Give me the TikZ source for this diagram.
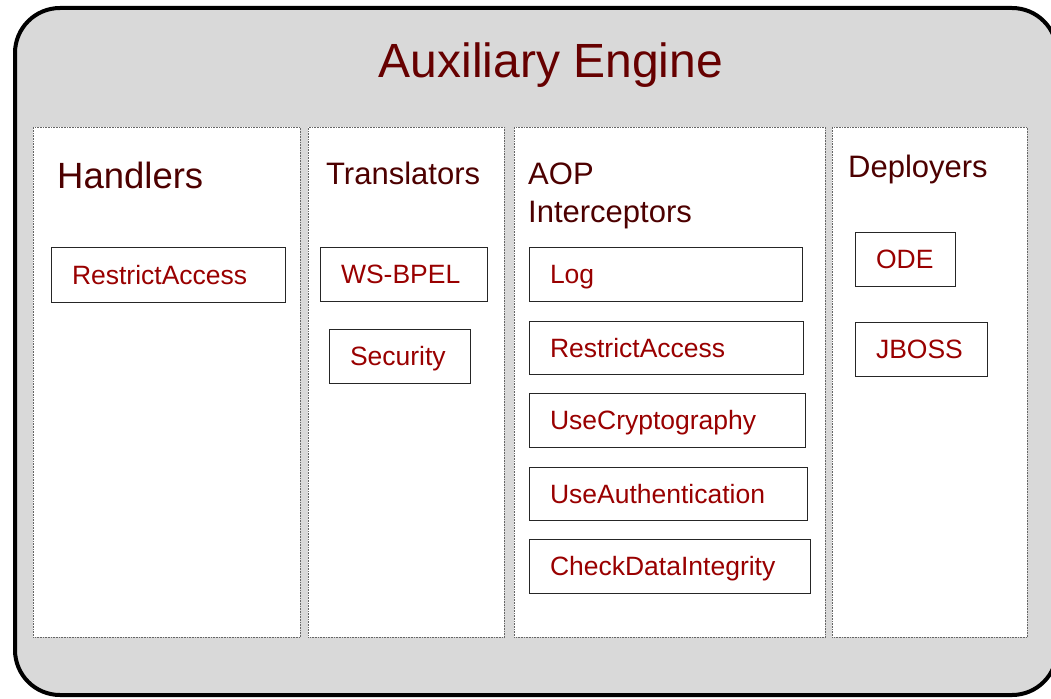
\documentclass[tikz,border=0pt]{standalone}
\usepackage{fontspec}
\setmainfont{Liberation Sans}
\definecolor{panelgray}{HTML}{D9D9D9}
\definecolor{titlered}{HTML}{660000}
\definecolor{headred}{HTML}{4D0000}
\definecolor{itemred}{HTML}{990000}
\begin{document}
\begin{tikzpicture}[x=1pt,y=-1pt,
  column/.style={draw=black!60, dash pattern=on 0.8pt off 0.8pt, line width=0.8pt,
    fill=white, inner sep=0pt, anchor=north west},
  heading/.style={text=headred, inner sep=0pt, anchor=base west, align=left,
    font=\fontsize{31}{38}\selectfont},
  item/.style={draw=black!85, line width=1pt, fill=white, text=itemred,
    font=\fontsize{26.5}{31}\selectfont, inner xsep=20.5pt, inner ysep=0pt,
    align=left, minimum height=54pt, text height=18.9pt, text depth=0pt,
    anchor=north west}]
\useasboundingbox (0,0) rectangle (1051,698);

% engine frame
\draw[line width=4pt, rounded corners=45pt, fill=panelgray] (15,8) rectangle (1057,695);
\node[text=titlered, inner sep=0pt, anchor=base, font=\fontsize{48}{56}\selectfont]
  (title) at (551,78) {Auxiliary Engine};

% columns
\node[column, minimum width=267pt, minimum height=510pt] (colH) at (33,127) {};
\node[column, minimum width=196pt, minimum height=510pt] (colT) at (308,127) {};
\node[column, minimum width=311pt, minimum height=510pt] (colA) at (514,127) {};
\node[column, minimum width=195pt, minimum height=510pt] (colD) at (832,127) {};

% column headings
\node[heading, font=\fontsize{36.5}{43}\selectfont] (hHandlers) at (57,188) {Handlers};
\node[heading] (hTranslators) at (326,184) {Translators};
\node[heading] (hAOP) at (528,184) {AOP};
\node[heading] (hInterceptors) at (528,222) {Interceptors};
\node[heading] (hDeployers) at (848,177) {Deployers};

% handlers
\node[item, text width=193pt, minimum height=55pt] (handRestrict) at (51,247) {RestrictAccess};

% translators
\node[item, text width=126pt] (trBpel) at (320,247) {WS-BPEL};
\node[item, text width=100pt] (trSec) at (329,329) {Security};

% AOP interceptors
\node[item, text width=232pt] (aopLog) at (529,247) {Log};
\node[item, text width=233pt, minimum height=53pt] (aopRestrict) at (529,321) {RestrictAccess};
\node[item, text width=235pt] (aopCrypto) at (529,393) {UseCryptography};
\node[item, text width=237pt, minimum height=53pt] (aopAuth) at (529,467) {UseAuthentication};
\node[item, text width=240pt] (aopIntegrity) at (529,539) {CheckDataIntegrity};

% deployers
\node[item, text width=59pt] (depODE) at (855,232) {ODE};
\node[item, text width=91pt] (depJBoss) at (855,322) {JBOSS};
\end{tikzpicture}
\end{document}
